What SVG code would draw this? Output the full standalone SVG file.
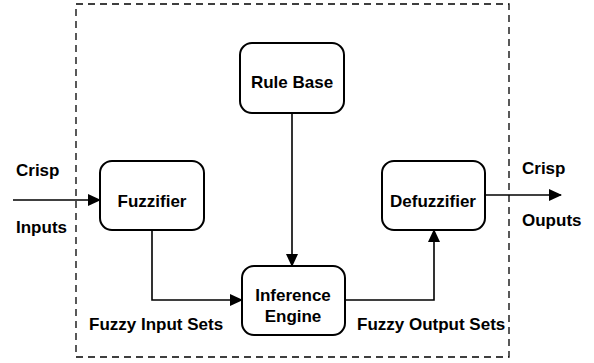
<svg xmlns="http://www.w3.org/2000/svg" width="594" height="363" viewBox="0 0 594 363">
<style>
.box{fill:#fff;stroke:#000;stroke-width:2}
.t{font-family:"Liberation Sans",Arial,sans-serif;font-weight:bold;font-size:17px;fill:#000}
.c{text-anchor:middle}
.ln{fill:none;stroke:#000;stroke-width:1.6}
</style>
<defs>
<marker id="ah" markerWidth="13" markerHeight="12" refX="12" refY="6" orient="auto" markerUnits="userSpaceOnUse">
<path d="M0,0 L13,6 L0,12 Z" fill="#000"/>
</marker>
</defs>
<rect x="76" y="4" width="433" height="353" fill="none" stroke="#000" stroke-width="1.3" stroke-dasharray="7,5"/>
<g id="connectors">
<path class="ln" d="M13,200 L100,200" marker-end="url(#ah)"/>
<path class="ln" d="M152,230 L152,300 L242,300" marker-end="url(#ah)"/>
<path class="ln" d="M292,113 L292,266" marker-end="url(#ah)"/>
<path class="ln" d="M345,300 L434,300 L434,230" marker-end="url(#ah)"/>
<path class="ln" d="M485,195 L561,195" marker-end="url(#ah)"/>
</g>
<g id="rulebase">
<rect class="box" x="240" y="43" width="104" height="70" rx="12"/>
<text class="t c" x="292" y="88">Rule Base</text>
</g>
<g id="fuzzifier">
<rect class="box" x="100" y="161" width="104" height="69" rx="12"/>
<text class="t c" x="152" y="207">Fuzzifier</text>
</g>
<g id="inference">
<rect class="box" x="242" y="266" width="103" height="69" rx="12"/>
<text class="t c" x="293" y="301">Inference</text>
<text class="t c" x="293" y="322">Engine</text>
</g>
<g id="defuzzifier">
<rect class="box" x="382" y="161" width="103" height="69" rx="12"/>
<text class="t c" x="433" y="207">Defuzzifier</text>
</g>
<g id="labels">
<text class="t" x="16" y="176">Crisp</text>
<text class="t" x="16" y="233">Inputs</text>
<text class="t" x="522" y="174">Crisp</text>
<text class="t" x="522" y="226">Ouputs</text>
<text class="t" x="89" y="330">Fuzzy Input Sets</text>
<text class="t" x="357" y="330">Fuzzy Output Sets</text>
</g>
</svg>
